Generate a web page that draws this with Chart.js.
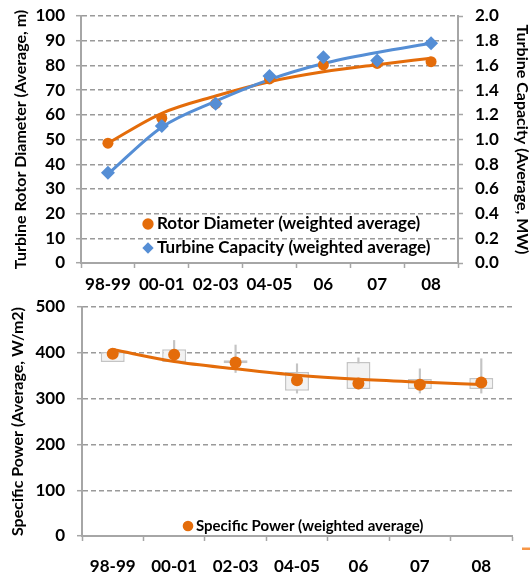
<!DOCTYPE html>
<html><head><meta charset="utf-8">
<script src="https://cdn.jsdelivr.net/npm/chart.js@4"></script>
<style>
html,body{margin:0;padding:0;background:#fff;width:530px;height:575px;overflow:hidden}
#top{position:absolute;left:0;top:0}
#bot{position:absolute;left:0;top:290px}
</style></head><body>
<canvas id="top" width="530" height="300"></canvas>
<canvas id="bot" width="530" height="285"></canvas>
<script>
// ---- data ----
const periods = ['98-99', '00-01', '02-03', '04-05', '06', '07', '08'];
const rotorDiameter = [48.5, 58.6, 64.5, 74.5, 80.2, 80.8, 81.5];      // m
const turbineCapacity = [0.73, 1.11, 1.29, 1.515, 1.665, 1.64, 1.78];  // MW
const rotorTrend = [48.5, 60.6, 67.6, 73.4, 77.4, 80.3, 82.9];         // m
const capacityTrend = [0.72, 1.10, 1.31, 1.485, 1.615, 1.705, 1.78];   // MW
const specificPower = [398, 396, 379, 340, 333, 330, 335];             // W/m2
const powerTrend = [407, 381, 365, 351, 342, 336, 331];
const boxLow = [380, 380, 377, 317, 321, 321, 321];
const boxHigh = [402, 408, 384, 358, 380, 343, 345];
const whiskerLow = [null, 380, 357, 312, 321, 312, 312];
const whiskerHigh = [null, 427, 417, 376, 389, 365, 387];
const capacityTickLabels = ['0.0','0.2','0.4','0.6','0.8','1.0','1.2','1.4','1.6','1.8','2.0'];

const ORANGE = '#E46C0A', BLUE = '#558ED5', AXIS = '#A6A6A6', GRID = '#9A9A9A';
Chart.defaults.font.family = 'Lato';
Chart.defaults.font.weight = 'bold';
Chart.defaults.color = '#000';
Chart.defaults.animation = false;

function legendMover(cx, cy, fs, pad) {
  return {
    id: 'legendMover',
    afterLayout(chart) {
      const lg = chart.legend;
      if (!lg) return;
      lg.left = cx - pad - 0.5;
      lg.top = cy - fs / 2 - pad;
      lg.right = lg.left + 420;
      lg.bottom = lg.top + 200;
      lg.width = 420; lg.height = 200;
    }
  };
}

const tickGrid = (extra) => Object.assign({
  display: true, tickLength: 5, tickColor: AXIS, tickWidth: 1.5, tickBorderDash: []
}, extra);
const dashedGrid = () => tickGrid({ color: GRID, lineWidth: 1.4, drawOnChartArea: true });
const noPad = (s) => { s.paddingTop = 0; s.paddingBottom = 0; };

new Chart(document.getElementById('top'), {
  type: 'line',
  data: {
    labels: periods,
    datasets: [
      { label: 'Rotor Diameter (weighted average)', data: rotorDiameter, yAxisID: 'y',
        showLine: false, pointStyle: 'circle', pointRadius: 5.5, pointBorderWidth: 0,
        backgroundColor: ORANGE, borderColor: ORANGE, order: 1 },
      { label: 'Turbine Capacity (weighted average)', data: turbineCapacity, yAxisID: 'y1',
        showLine: false, pointStyle: 'rectRot', pointRadius: 7, pointBorderWidth: 0,
        backgroundColor: BLUE, borderColor: BLUE, order: 0 },
      { label: 'capTrend', data: capacityTrend, yAxisID: 'y1', borderColor: BLUE, borderWidth: 3,
        pointRadius: 0, cubicInterpolationMode: 'monotone', order: 2 },
      { label: 'rotorTrend', data: rotorTrend, yAxisID: 'y', borderColor: ORANGE, borderWidth: 3,
        pointRadius: 0, cubicInterpolationMode: 'monotone', order: 3 }
    ]
  },
  options: {
    responsive: false,
    layout: { padding: { top: 16, left: 0, right: 0, bottom: 0 } },
    plugins: {
      tooltip: { enabled: false },
      legend: {
        position: 'chartArea', align: 'start',
        labels: {
          usePointStyle: true, boxWidth: 1, boxHeight: 8, padding: 7,
          font: { size: 17, weight: 'bold' }, color: '#000',
          filter: (item) => item.datasetIndex < 2,
          sort: (a, b) => a.datasetIndex - b.datasetIndex
        }
      }
    },
    scales: {
      x: {
        offset: true,
        grid: tickGrid({ offset: true, drawOnChartArea: false }),
        border: { color: AXIS, width: 2 },
        ticks: { font: { size: 17 }, padding: 6, maxRotation: 0, autoSkip: false },
        afterFit(s) { s.height = 37; }
      },
      y: {
        min: 0, max: 100,
        ticks: { stepSize: 10, font: { size: 17 }, padding: 11 },
        grid: dashedGrid(),
        border: { display: true, color: AXIS, width: 2, dash: [5, 3] },
        title: { display: true, text: 'Turbine Rotor Diameter (Average, m)',
          font: { size: 16, weight: 'bold', lineHeight: 1.2 }, padding: { top: 11, bottom: 0 } },
        afterFit(s) { s.width = 81; noPad(s); }
      },
      y1: {
        position: 'right', min: 0, max: 2,
        ticks: { stepSize: 0.2, font: { size: 17 }, padding: 12,
          callback: (v) => capacityTickLabels[Math.round(v * 5)] },
        grid: tickGrid({ drawOnChartArea: false }),
        border: { color: AXIS, width: 2 },
        title: { display: true, text: 'Turbine Capacity (Average, MW)',
          font: { size: 16, weight: 'bold', lineHeight: 1.0 }, padding: { top: 0, bottom: 0 } },
        afterFit(s) { s.width = 72; noPad(s); }
      }
    }
  },
  plugins: [legendMover(148, 224, 17, 7)]
});

const strayDash = {
  id: 'strayDash',
  afterDraw(chart) {
    const ctx = chart.ctx;
    ctx.save(); ctx.fillStyle = '#F79646'; ctx.fillRect(522, 257.5, 8, 2.5); ctx.restore();
  }
};

new Chart(document.getElementById('bot'), {
  type: 'bar',
  data: {
    labels: periods,
    datasets: [
      { type: 'line', label: 'Specific Power (weighted average)', data: specificPower,
        showLine: false, pointStyle: 'circle', pointRadius: 6, pointBorderWidth: 0,
        backgroundColor: ORANGE, borderColor: ORANGE, order: 0 },
      { type: 'line', label: 'powerTrend', data: powerTrend, borderColor: ORANGE, borderWidth: 3,
        pointRadius: 0, cubicInterpolationMode: 'monotone', order: 1 },
      { type: 'bar', label: 'range', data: boxLow.map((v, i) => [v, boxHigh[i]]),
        backgroundColor: '#F2F2F2', borderColor: '#C4C4C4', borderWidth: 1.5, borderSkipped: false,
        barPercentage: 0.39, categoryPercentage: 1, grouped: false, order: 2 },
      { type: 'bar', label: 'whisker', data: whiskerLow.map((v, i) => v == null ? null : [v, whiskerHigh[i]]),
        backgroundColor: '#C4C4C4', borderWidth: 0, barThickness: 1.5, grouped: false, order: 3 }
    ]
  },
  options: {
    responsive: false,
    layout: { padding: { top: 17, left: 0, right: 18, bottom: 0 } },
    plugins: {
      tooltip: { enabled: false },
      legend: {
        position: 'chartArea', align: 'start',
        labels: {
          usePointStyle: true, boxWidth: 1, boxHeight: 7.5, padding: 7,
          font: { size: 15, weight: 'bold' }, color: '#000',
          filter: (item) => item.datasetIndex === 0
        }
      }
    },
    scales: {
      x: {
        offset: true,
        grid: tickGrid({ offset: true, drawOnChartArea: false }),
        border: { color: AXIS, width: 2 },
        ticks: { font: { size: 17 }, padding: 15, maxRotation: 0, autoSkip: false },
        afterFit(s) { s.height = 39; }
      },
      y: {
        min: 0, max: 500,
        ticks: { stepSize: 100, font: { size: 17 }, padding: 12 },
        grid: dashedGrid(),
        border: { display: true, color: AXIS, width: 2, dash: [5, 3] },
        title: { display: true, text: 'Specific Power (Average, W/m2)',
          font: { size: 16, weight: 'bold', lineHeight: 1.2 }, padding: { top: 8, bottom: 0 } },
        afterFit(s) { s.width = 82; noPad(s); }
      }
    }
  },
  plugins: [legendMover(188, 236, 15, 7), strayDash]
});
</script>
</body></html>
